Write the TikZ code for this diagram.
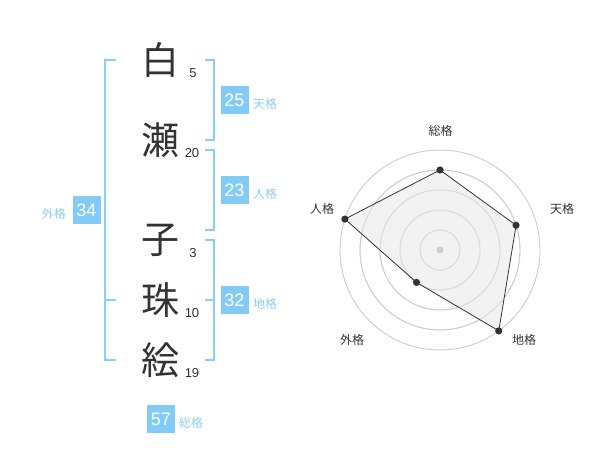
\documentclass[tikz,border=0pt]{standalone}
\usepackage{fontspec}
\usetikzlibrary{calc}
\setmainfont{Liberation Sans}
\newfontfamily\cjk{Noto Sans CJK JP}
\definecolor{inkdark}{HTML}{333333}
\definecolor{boxblue}{HTML}{82CBF6}
\definecolor{lblblue}{HTML}{8CCDF2}
\definecolor{brblue}{HTML}{88CFFB}
\definecolor{ringgray}{HTML}{CCCCCC}
\definecolor{polyfill}{HTML}{F0F0F0}
\tikzset{
  kanji/.style={font=\cjk\fontsize{38}{40}\selectfont, text=inkdark, inner sep=0pt},
  strokes/.style={font=\fontsize{13}{14}\selectfont, text=inkdark, inner sep=0pt},
  numbox/.style={fill=boxblue, text=white, minimum size=28pt, inner sep=0pt, font=\fontsize{18}{18}\selectfont},
  lab/.style={font=\cjk\fontsize{12}{12}\selectfont, text=lblblue, inner sep=0pt},
  bracket/.style={draw=brblue, line width=2pt},
  ring/.style={draw=ringgray, line width=0.9pt},
  radlab/.style={font=\cjk\fontsize{12}{12}\selectfont, text=inkdark, inner sep=0pt},
  dot/.style={fill=inkdark}
}
\begin{document}
\begin{tikzpicture}[x=1pt,y=-1pt]
\useasboundingbox (0,0) rectangle (600,470);
% characters
\node[kanji] (k1) at (160,60) {白};
\node[kanji] (k2) at (160,140) {瀬};
\node[kanji] (k3) at (160,240) {子};
\node[kanji] (k4) at (160,300) {珠};
\node[kanji] (k5) at (160,360) {絵};
% stroke counts
\node[strokes] (s1) at (193,73) {5};
\node[strokes] (s2) at (192,153) {20};
\node[strokes] (s3) at (193,253) {3};
\node[strokes] (s4) at (192,313) {10};
\node[strokes] (s5) at (192,373) {19};
% brackets
\draw[bracket] (116,60) -- (105,60) -- (105,360) -- (116,360);
\draw[bracket] (105,300) -- (116,300);
\draw[bracket] (205,60) -- (214,60) -- (214,140) -- (205,140);
\draw[bracket] (205,150) -- (214,150) -- (214,230) -- (205,230);
\draw[bracket] (205,240) -- (214,240) -- (214,360) -- (205,360);
\draw[bracket] (205,300) -- (214,300);
% number boxes and labels
\node[numbox] (ten) at (234.5,100.5) {25};
\node[lab, anchor=west] (tenl) at (253,104) {天格};
\node[numbox] (jin) at (234.5,190) {23};
\node[lab, anchor=west] (jinl) at (253,194) {人格};
\node[numbox] (chi) at (234.5,300) {32};
\node[lab, anchor=west] (chil) at (253,304) {地格};
\node[numbox] (gai) at (86.5,210) {34};
\node[lab, anchor=east] (gail) at (66,213.5) {外格};
\node[numbox] (sou) at (161,419) {57};
\node[lab, anchor=west] (soul) at (179,423) {総格};
% radar chart
\coordinate (c) at (440,250);
\foreach \r in {20,40,60,80,100} \draw[ring] (c) circle[radius=\r];
\coordinate (pS) at ($(c)+(-90:80)$);
\coordinate (pT) at ($(c)+(-18:80)$);
\coordinate (pC) at ($(c)+(54:100)$);
\coordinate (pG) at ($(c)+(126:40)$);
\coordinate (pJ) at ($(c)+(198:100)$);
\fill[polyfill, opacity=0.85] (pS) -- (pT) -- (pC) -- (pG) -- (pJ) -- cycle;
\foreach \r in {20,40,60,80} \draw[ring, opacity=0.6] (c) circle[radius=\r];
\draw[inkdark, line width=0.8pt] (pS) -- (pT) -- (pC) -- (pG) -- (pJ) -- cycle;
\fill[ringgray] (c) circle[radius=3.5];
\foreach \p in {pS,pT,pC,pG,pJ} \fill[dot] (\p) circle[radius=3.6];
\node[radlab] (rS) at (440.5,130.5) {総格};
\node[radlab] (rT) at (562,209) {天格};
\node[radlab] (rC) at (524,340) {地格};
\node[radlab] (rG) at (352,340) {外格};
\node[radlab] (rJ) at (322,209) {人格};
\end{tikzpicture}
\end{document}
